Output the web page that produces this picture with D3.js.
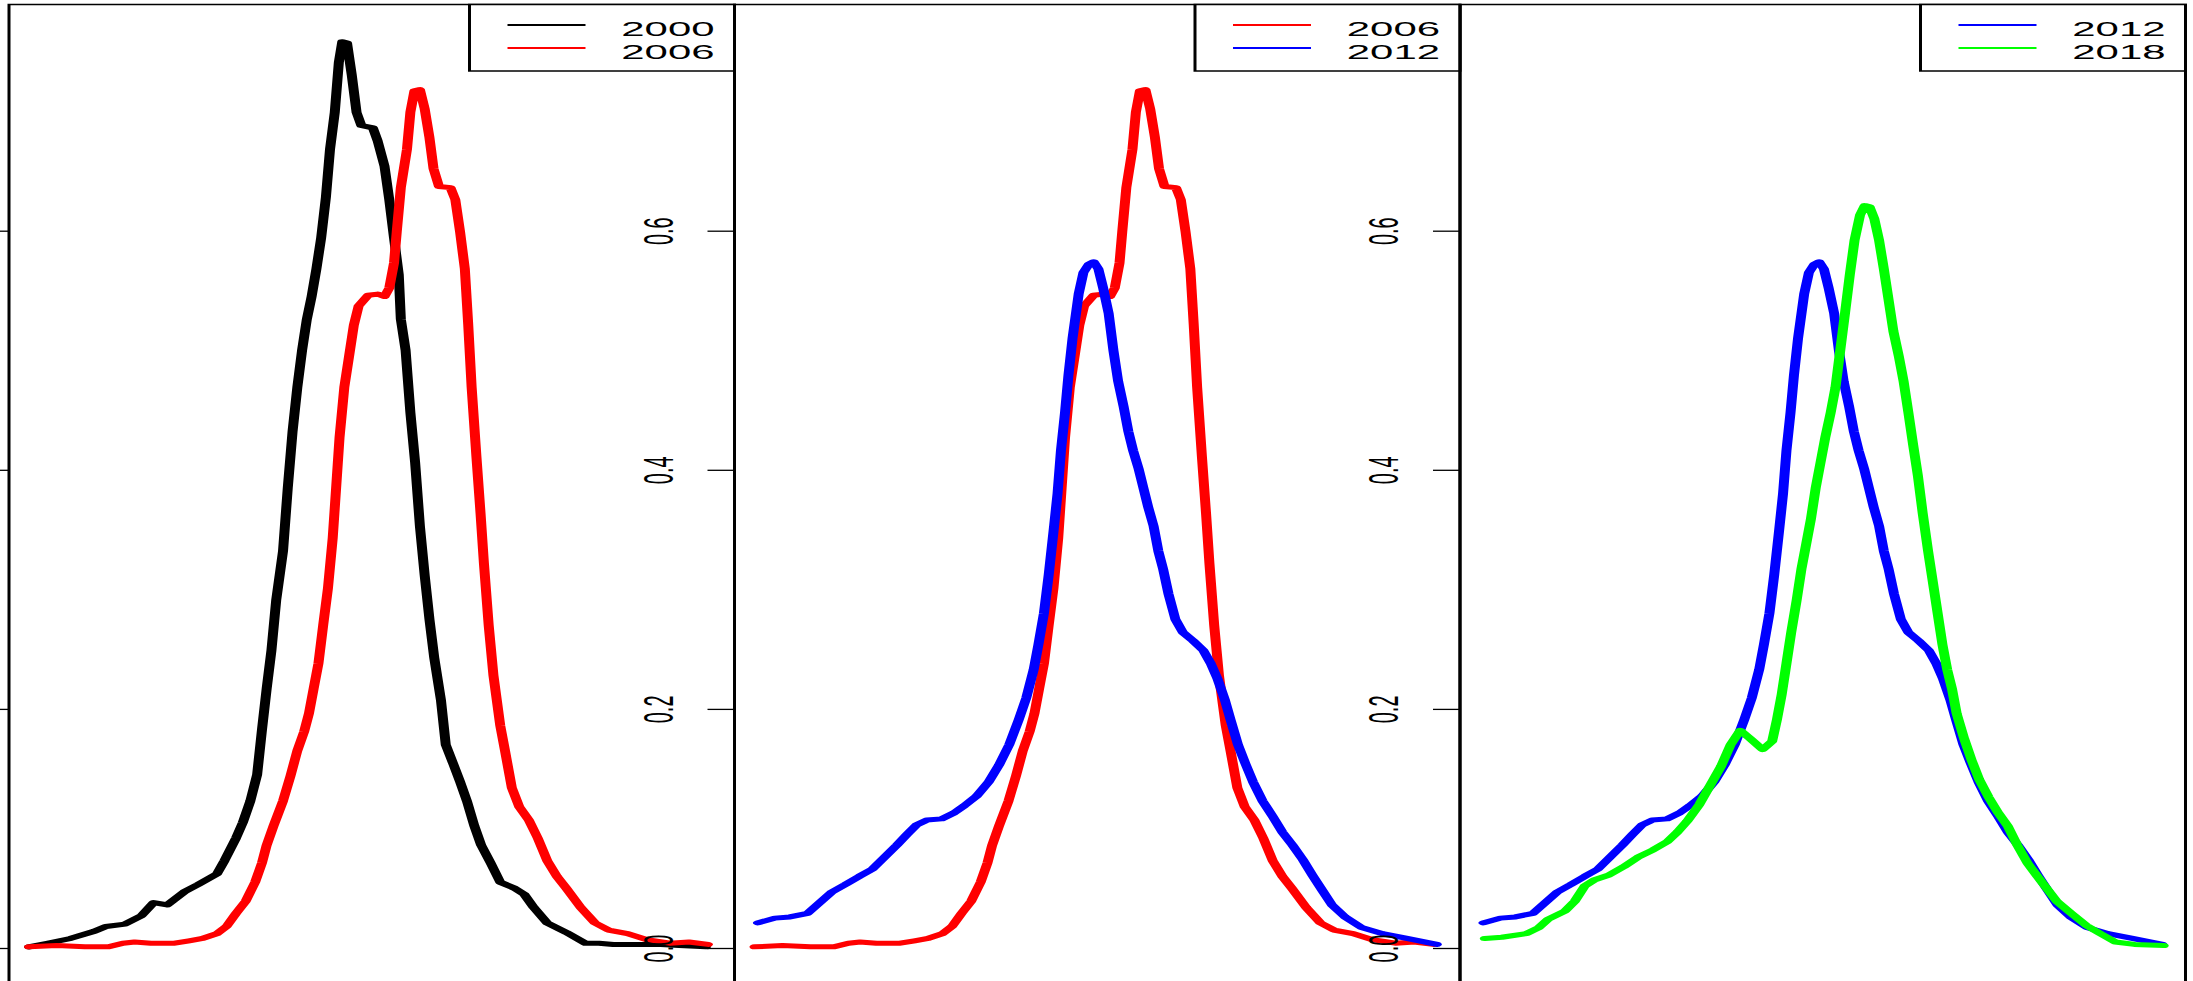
<!DOCTYPE html>
<html>
<head>
<meta charset="utf-8">
<script src="https://cdn.jsdelivr.net/npm/d3@7"></script>
<style>
  body { margin: 0; background: #fff; }
  svg { display: block; }
</style>
</head>
<body>
<div id="chart"></div>
<script>

// years shown, their colours and which pair goes in which panel
var yearColors = {"2000": "#000000", "2006": "#ff0000", "2012": "#0000ff", "2018": "#00ff00"};
var panelYears = [["2000", "2006"], ["2006", "2012"], ["2012", "2018"]];

var yTicks = [0, 0.2, 0.4, 0.6];
var yTickLabels = ["0.0", "0.2", "0.4", "0.6"];

// density curves, [x, density], x read on a 0..100 scale
var d2000 = [[0,0.001],[2.7,0.004],[6.1,0.008],[9.6,0.014],[11.3,0.018],[14.1,0.02],[16.5,0.027],[18.3,0.038],[20.3,0.036],[22.8,0.047],
  [24.8,0.053],[27.6,0.062],[28.7,0.073],[30.4,0.092],[31.4,0.105],[32.5,0.123],[33.5,0.145],[34.2,0.182],[34.9,0.217],[35.6,0.249],
  [36.3,0.291],[37.3,0.332],[38.0,0.385],[38.7,0.432],[39.4,0.469],[40.1,0.5],[40.8,0.526],[41.5,0.545],[42.2,0.568],[42.9,0.594],
  [43.6,0.628],[44.2,0.668],[44.9,0.699],[45.5,0.741],[46.0,0.758],[46.7,0.757],[47.4,0.73],[48.1,0.699],[48.8,0.688],[50.5,0.686],
  [51.2,0.675],[52.2,0.654],[52.9,0.626],[53.6,0.594],[54.3,0.563],[54.6,0.526],[55.3,0.5],[56.0,0.448],[56.7,0.406],[57.4,0.353],
  [58.1,0.312],[58.8,0.275],[59.5,0.243],[60.5,0.207],[61.2,0.17],[62.3,0.154],[63.3,0.139],[64.3,0.123],[65.4,0.102],[66.4,0.086],
  [67.8,0.071],[69.2,0.055],[71.3,0.05],[72.7,0.045],[74.1,0.034],[76.1,0.021],[78.9,0.013],[81.7,0.004],[83.7,0.004],[85.8,0.003],
  [89.3,0.003],[92.8,0.003],[95.5,0.002],[99.4,0.001]];

var d2006 = [[0,0.001],[4.1,0.002],[8.2,0.001],[11.7,0.001],[13.8,0.004],[15.5,0.005],[17.9,0.004],[21.4,0.004],[23.5,0.006],[25.5,0.008],
  [27.6,0.012],[29.0,0.018],[30.4,0.029],[31.8,0.039],[33.2,0.055],[34.2,0.071],[34.9,0.086],[35.9,0.102],[37.3,0.123],[38.4,0.144],
  [39.4,0.165],[40.4,0.181],[41.1,0.196],[41.8,0.217],[42.5,0.238],[43.2,0.27],[43.9,0.301],[44.6,0.343],[45.1,0.385],[45.6,0.427],
  [46.3,0.469],[47.0,0.495],[47.7,0.521],[48.4,0.537],[49.8,0.546],[51.2,0.547],[52.2,0.545],[52.9,0.552],[53.6,0.573],[54.0,0.599],
  [54.6,0.636],[55.5,0.668],[56.0,0.699],[56.6,0.717],[57.4,0.718],[58.1,0.702],[58.8,0.678],[59.4,0.652],[60.2,0.637],[61.9,0.636],
  [62.6,0.626],[63.3,0.599],[64.0,0.568],[64.5,0.521],[65.0,0.469],[65.7,0.411],[66.3,0.364],[66.8,0.322],[67.5,0.27],[68.2,0.228],
  [69.2,0.186],[69.9,0.165],[70.9,0.134],[72.0,0.118],[73.4,0.107],[74.7,0.092],[76.1,0.073],[77.5,0.06],[78.9,0.05],[81.0,0.034],
  [83.1,0.021],[85.1,0.015],[87.9,0.012],[90.7,0.007],[94.1,0.004],[96.9,0.005],[99.7,0.003]];

var d2012 = [[0.5,0.021],[3.0,0.025],[5.2,0.026],[7.8,0.029],[9.6,0.038],[11.4,0.047],[13.3,0.053],[15.4,0.06],[17.3,0.066],[19.1,0.076],
  [20.9,0.086],[22.4,0.095],[23.8,0.103],[25.3,0.107],[27.5,0.108],[29.3,0.113],[30.8,0.119],[32.6,0.127],[34.4,0.139],[35.9,0.153],
  [37.4,0.17],[38.8,0.191],[39.9,0.209],[41.0,0.233],[41.7,0.254],[42.5,0.28],[43.2,0.312],[43.9,0.348],[44.5,0.38],[45.0,0.416],
  [45.6,0.448],[46.1,0.479],[46.7,0.51],[47.6,0.547],[48.3,0.565],[49.1,0.572],[49.8,0.574],[50.5,0.568],[51.2,0.552],[52.0,0.531],
  [52.7,0.5],[53.4,0.474],[54.2,0.453],[54.9,0.432],[55.6,0.416],[56.4,0.401],[57.1,0.385],[57.8,0.369],[58.6,0.353],[59.3,0.332],
  [60.0,0.317],[60.8,0.296],[61.8,0.275],[62.9,0.264],[64.4,0.257],[65.9,0.249],[67.0,0.238],[68.0,0.225],[69.1,0.207],[69.9,0.191],
  [71.0,0.17],[72.1,0.154],[73.2,0.139],[74.6,0.123],[76.1,0.11],[77.5,0.097],[79.0,0.086],[80.5,0.074],[81.9,0.061],[83.4,0.048],
  [84.8,0.036],[86.7,0.026],[89.2,0.017],[92.2,0.012],[95.8,0.008],[100.2,0.003]];

var d2018 = [[0.7,0.008],[3.2,0.009],[6.8,0.012],[8.6,0.017],[10.0,0.024],[12.5,0.031],[13.9,0.039],[15.4,0.052],[16.8,0.057],[18.9,0.061],
  [21.1,0.068],[23.2,0.076],[25.4,0.082],[27.5,0.089],[29.0,0.097],[30.4,0.106],[32.2,0.12],[34.0,0.138],[35.4,0.152],[36.8,0.17],
  [38.2,0.182],[39.7,0.175],[41.5,0.166],[42.9,0.173],[43.6,0.191],[44.3,0.212],[45.0,0.238],[45.7,0.264],[46.5,0.291],[47.2,0.317],
  [47.9,0.338],[48.6,0.359],[49.3,0.385],[50.0,0.406],[50.7,0.427],[51.5,0.448],[52.2,0.469],[52.9,0.5],[53.6,0.531],[54.3,0.563],
  [55.0,0.592],[55.8,0.613],[56.5,0.621],[57.2,0.62],[57.9,0.61],[58.6,0.592],[59.3,0.568],[60.0,0.542],[60.7,0.516],[61.5,0.495],
  [62.2,0.474],[62.9,0.448],[63.6,0.421],[64.3,0.395],[65.0,0.364],[65.8,0.332],[66.5,0.306],[67.2,0.28],[67.9,0.254],[68.6,0.233],
  [69.3,0.217],[70.0,0.196],[71.1,0.175],[72.2,0.157],[73.3,0.141],[74.7,0.126],[76.1,0.113],[77.5,0.102],[78.9,0.086],[80.4,0.071],
  [82.5,0.055],[84.7,0.039],[86.8,0.029],[89.0,0.019],[91.1,0.012],[93.3,0.005],[96.1,0.003],[100.4,0.002]];

var series = {"2000": d2000, "2006": d2006, "2012": d2012, "2018": d2018};

var width = 2193, height = 981;
var sx = 2;            // the picture is stretched sideways, lines get fatter when they go up
var panelW = 725.5;
var panelLeft0 = 9;
var plotTop = 4.5, plotBottom = 984;
var font = "'Liberation Sans', Arial, Helvetica, sans-serif";

var y = d3.scaleLinear().domain([0, 0.6]).range([948, 230.7]);

var svg = d3.select("#chart").append("svg")
  .attr("width", width)
  .attr("height", height);

svg.append("rect")
  .attr("width", width)
  .attr("height", height)
  .attr("fill", "white");

panelYears.forEach(function(years, p) {
  var left = panelLeft0 + p * panelW;
  var right = left + panelW;

  // stretched group, coordinates inside are divided by sx
  var g = svg.append("g").attr("transform", "scale(" + sx + ",1)");

  var x = d3.scaleLinear().domain([0, 100]).range([(left + 20) / sx, (left + 701) / sx]);

  var line = d3.line()
    .x(d => x(d[0]))
    .y(d => y(d[1]));

  years.forEach(function(yr) {
    g.append("path")
      .datum(series[yr])
      .attr("d", line)
      .attr("fill", "none")
      .attr("stroke", yearColors[yr])
      .attr("stroke-width", 5)
      .attr("stroke-linejoin", "round")
      .attr("stroke-linecap", "round");
  });

  g.append("rect")
    .attr("x", left / sx)
    .attr("y", plotTop)
    .attr("width", panelW / sx)
    .attr("height", plotBottom - plotTop)
    .attr("fill", "none")
    .attr("stroke", "black")
    .attr("stroke-width", 1.5);

  // legend box in the top right corner
  var legW = 265;
  g.append("rect")
    .attr("x", (right - legW) / sx)
    .attr("y", plotTop)
    .attr("width", legW / sx)
    .attr("height", 71 - plotTop)
    .attr("fill", "white")
    .attr("stroke", "black")
    .attr("stroke-width", 1.5);

  years.forEach(function(yr, i) {
    g.append("line")
      .attr("x1", (right - 227) / sx)
      .attr("x2", (right - 149) / sx)
      .attr("y1", 25 + i * 23)
      .attr("y2", 25 + i * 23)
      .attr("stroke", yearColors[yr])
      .attr("stroke-width", 2);

    svg.append("text")
      .attr("transform", "translate(" + (right - 20) + "," + (36 + i * 23) + ") scale(2.15,1)")
      .attr("text-anchor", "end")
      .style("font-family", font)
      .style("font-size", "19.5px")
      .attr("fill", "black")
      .text(yr);
  });

  // left axis, labels turned to run upwards
  var axis = svg.append("g")
    .attr("transform", "translate(" + left + ",0)")
    .call(d3.axisLeft(y).tickValues(yTicks).tickSize(27).tickFormat((d, i) => yTickLabels[i]));

  axis.select(".domain").remove();
  axis.selectAll(".tick line").attr("stroke", "black").attr("stroke-width", 1.3);

  // the first panel's labels sit left of the picture, so they are not drawn
  if (left - 62 < 0) {
    axis.selectAll(".tick text").remove();
  } else {
    axis.selectAll(".tick text")
      .attr("x", null)
      .attr("dy", null)
      .attr("text-anchor", "middle")
      .attr("transform", "translate(-62,0) rotate(-90) scale(1,2.1)")
      .attr("fill", "black")
      .style("font-family", font)
      .style("font-size", "20px");
  }
});

</script>
</body>
</html>
